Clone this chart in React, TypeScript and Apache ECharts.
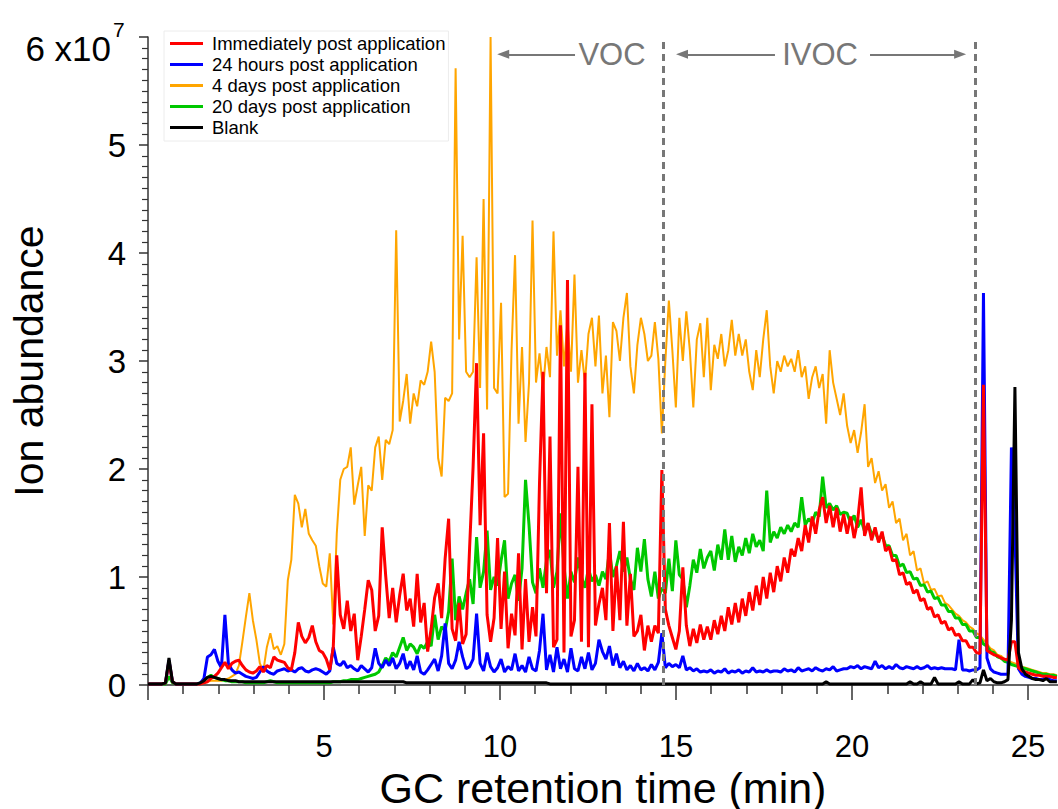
import { useEffect, useRef } from 'react';
import * as echarts from 'echarts';

// Retention-time spacing between successive scans (min)
const SCAN_STEP = 0.0993;

// Ion abundance per scan, in units of 10^6 counts (ten values per row)
const immediatelyPost: number[] = [
  0.1, 0.1, 0.1, 0.1, 0.1, 0.2, 2.2, 0.3, 0.1, 0.1,
  0.1, 0.1, 0.1, 0.1, 0.1, 0.1, 0.2, 0.3, 0.6, 0.8,
  1.1, 1.6, 2.1, 1.5, 2.0, 2.2, 2.3, 1.8, 1.4, 1.2,
  1.1, 1.3, 1.7, 1.2, 1.8, 1.6, 2.6, 2.3, 2.2, 2.1,
  1.6, 1.4, 3.0, 5.8, 4.5, 3.9, 4.4, 5.5, 4.0, 3.2,
  3.0, 2.4, 1.4, 3.5, 12.0, 6.5, 5.2, 7.8, 5.0, 6.6,
  2.3, 4.5, 7.0, 9.7, 8.8, 5.0, 6.4, 14.6, 10.1, 6.2,
  9.0, 5.8, 8.3, 10.3, 6.9, 8.0, 5.4, 10.3, 5.8, 7.6,
  3.1, 5.2, 8.1, 9.4, 6.2, 11.7, 15.4, 5.2, 4.1, 7.6,
  3.8, 4.7, 12.7, 20.2, 29.8, 14.8, 23.3, 6.5, 4.0, 6.2,
  13.6, 5.2, 10.5, 3.4, 6.6, 4.6, 12.2, 3.3, 9.8, 4.0,
  7.2, 4.5, 18.7, 29.0, 8.5, 23.0, 3.5, 4.2, 33.3, 3.0,
  37.5, 4.5, 6.0, 20.2, 4.0, 28.9, 3.5, 26.0, 5.5, 7.5,
  9.0, 6.0, 15.0, 5.0, 11.0, 6.0, 15.1, 5.5, 10.3, 4.5,
  5.0, 6.5, 3.2, 5.5, 4.0, 5.5, 4.8, 19.9, 7.0, 5.5,
  4.4, 3.3, 5.0, 10.9, 5.5, 3.6, 5.2, 3.9, 5.6, 4.2,
  5.4, 4.2, 6.0, 4.7, 6.4, 5.0, 7.2, 5.6, 7.6, 5.8,
  8.0, 6.4, 8.6, 6.9, 9.2, 7.4, 10.0, 8.0, 10.4, 8.6,
  11.0, 9.6, 11.8, 10.4, 12.6, 11.9, 13.6, 12.4, 14.8, 13.2,
  15.6, 14.0, 16.2, 17.4, 15.0, 16.6, 14.6, 16.4, 14.2, 15.8,
  14.0, 15.6, 13.6, 15.2, 18.3, 13.8, 15.0, 13.4, 14.6, 13.2,
  14.2, 12.4, 12.8, 11.5, 11.6, 10.2, 10.4, 9.3, 9.5, 8.5,
  8.8, 7.8, 8.0, 7.0, 7.2, 6.3, 6.5, 5.7, 5.9, 5.1,
  5.3, 4.6, 4.7, 4.1, 4.1, 3.5, 3.5, 3.0, 2.9, 27.8,
  3.2, 3.0, 2.8, 2.7, 2.5, 2.4, 2.3, 4.0, 4.0, 1.6,
  1.3, 1.2, 1.1, 1.0, 0.9, 0.9, 0.8, 0.8, 0.8, 0.7,
  0.7,
];

const hours24Post: number[] = [
  0.1, 0.1, 0.1, 0.1, 0.1, 0.2, 2.3, 0.3, 0.1, 0.1,
  0.1, 0.1, 0.1, 0.1, 0.1, 0.2, 0.6, 2.6, 2.8, 3.3,
  2.2, 1.6, 6.5, 2.0, 1.4, 1.1, 1.2, 1.0, 0.8, 0.7,
  0.6, 0.7, 1.2, 1.7, 1.3, 1.1, 1.0, 1.3, 1.4, 1.5,
  1.3, 1.4, 1.2, 1.5, 1.6, 1.3, 1.2, 1.4, 1.5, 1.4,
  1.2, 1.0, 1.3, 3.5, 2.0, 1.8, 2.2, 1.6, 1.8, 1.5,
  1.3, 1.8, 1.5, 1.2, 1.6, 3.4, 2.0, 1.6, 2.3, 1.8,
  2.5, 1.5, 2.0, 2.9, 1.5, 2.2, 1.4, 2.7, 1.2, 1.0,
  1.4, 1.9, 2.4, 1.3, 2.7, 5.7, 2.0, 1.5, 2.3, 4.0,
  2.6, 1.5, 1.7, 2.4, 6.6, 2.0, 1.3, 3.0, 1.7, 1.2,
  1.6, 2.4, 1.2, 1.7, 1.4, 2.9, 1.3, 1.8, 1.2, 2.6,
  1.5, 1.3, 3.2, 6.6, 1.4, 2.8, 1.2, 3.5, 1.5, 2.4,
  1.2, 3.4, 1.5, 1.3, 2.6, 1.5, 3.0, 1.4, 2.0, 4.2,
  3.1, 2.4, 3.6, 1.8, 2.9, 1.6, 2.2, 1.4, 1.8, 1.3,
  2.0, 1.4, 1.6, 1.3, 1.9, 1.4, 2.1, 4.8, 1.6, 2.0,
  1.7, 1.9, 1.6, 2.7, 1.4, 1.6, 1.3, 1.5, 1.2, 1.3,
  1.2, 1.4, 1.1, 1.3, 1.2, 1.5, 1.1, 1.3, 1.2, 1.4,
  1.1, 1.3, 1.2, 1.6, 1.2, 1.3, 1.2, 1.4, 1.2, 1.3,
  1.3, 1.2, 1.5, 1.3, 1.4, 1.2, 1.6, 1.3, 1.4, 1.5,
  1.3, 1.6, 1.4, 1.3, 1.5, 1.4, 1.7, 1.3, 1.4, 1.5,
  1.5, 1.7, 1.6, 1.8, 1.5, 1.7, 1.6, 1.5, 2.2, 1.6,
  1.8, 1.5, 1.7, 1.5, 1.9, 1.6, 1.5, 1.7, 1.6, 1.5,
  1.7, 1.5, 1.6, 1.8, 1.5, 1.6, 1.5, 1.6, 1.5, 1.5,
  1.5, 1.4, 4.2, 1.4, 1.4, 1.3, 1.4, 1.4, 1.6, 36.3,
  2.5, 1.5, 1.2, 1.1, 1.0, 1.0, 1.0, 22.0, 14.0, 1.5,
  1.0, 0.8, 0.7, 0.6, 0.6, 0.5, 0.5, 0.8, 0.5, 0.4,
  0.4,
];

const days4Post: number[] = [
  0.1, 0.1, 0.1, 0.1, 0.1, 0.1, 0.8, 0.2, 0.1, 0.1,
  0.1, 0.1, 0.1, 0.1, 0.1, 0.1, 0.2, 0.3, 0.4, 0.4,
  0.4, 0.4, 0.5, 0.6, 0.8, 1.0, 1.8, 4.0, 6.3, 8.5,
  6.0, 4.2, 2.0, 1.3, 3.5, 4.8, 3.3, 3.6, 2.8, 3.8,
  9.7, 11.6, 17.6, 16.8, 14.6, 16.3, 14.0, 13.4, 12.9, 11.0,
  9.4, 9.1, 12.2, 5.6, 14.0, 19.0, 20.0, 20.2, 22.0, 16.7,
  18.5, 20.2, 13.8, 18.5, 18.0, 22.0, 23.0, 19.0, 22.7, 22.3,
  23.6, 42.1, 24.4, 26.3, 28.8, 24.2, 27.0, 25.8, 28.2, 27.8,
  29.0, 31.8, 29.0, 21.0, 19.3, 26.6, 26.3, 27.0, 57.1, 32.0,
  41.6, 29.0, 28.5, 29.0, 39.6, 27.5, 45.0, 25.5, 60.0, 27.5,
  27.0, 35.4, 17.4, 17.7, 31.0, 39.8, 24.2, 31.3, 22.5, 28.0,
  43.0, 28.0, 30.7, 27.3, 31.3, 28.5, 42.0, 30.5, 34.7, 29.5,
  33.6, 29.0, 38.0, 28.0, 31.0, 28.0, 32.5, 34.0, 29.5, 34.2,
  27.0, 30.5, 24.8, 33.6, 32.8, 30.0, 34.0, 36.3, 29.5, 27.0,
  31.5, 34.0, 32.5, 30.0, 30.5, 33.6, 30.2, 23.3, 30.0, 35.6,
  31.0, 25.7, 34.0, 30.0, 34.6, 31.0, 25.7, 32.0, 33.5, 28.5,
  34.0, 27.3, 31.5, 30.2, 32.5, 29.5, 31.0, 33.8, 30.5, 32.5,
  30.5, 32.0, 29.0, 27.3, 31.0, 28.5, 32.0, 34.7, 29.5, 27.0,
  30.0, 29.0, 30.5, 29.5, 30.2, 29.0, 31.0, 28.5, 29.5, 26.5,
  28.5, 29.5, 27.5, 28.8, 24.2, 31.0, 28.0, 26.5, 25.0, 27.0,
  24.0, 22.4, 23.6, 21.5, 23.4, 26.0, 20.2, 21.0, 18.7, 19.8,
  18.0, 18.6, 16.4, 17.0, 15.0, 15.4, 13.4, 14.0, 12.0, 12.4,
  10.6, 10.8, 9.4, 9.6, 8.8, 8.9, 8.2, 8.3, 7.6, 7.4,
  7.0, 6.6, 6.4, 6.0, 5.8, 5.4, 5.2, 4.8, 4.6, 4.2,
  3.8, 3.4, 3.2, 2.8, 2.7, 2.4, 2.3, 2.1, 2.0, 1.9,
  1.7, 1.6, 1.5, 1.4, 1.3, 1.2, 1.1, 1.1, 1.0, 1.0,
  0.9,
];

const days20Post: number[] = [
  0.1, 0.1, 0.1, 0.1, 0.1, 0.1, 0.8, 0.2, 0.1, 0.1,
  0.1, 0.1, 0.1, 0.1, 0.1, 0.2, 0.4, 0.7, 0.9, 0.7,
  0.6, 0.5, 0.4, 0.4, 0.3, 0.3, 0.3, 0.3, 0.2, 0.2,
  0.2, 0.2, 0.2, 0.2, 0.3, 0.4, 0.3, 0.2, 0.2, 0.2,
  0.2, 0.2, 0.2, 0.2, 0.2, 0.2, 0.2, 0.2, 0.2, 0.2,
  0.2, 0.2, 0.2, 0.3, 0.3, 0.3, 0.4, 0.4, 0.5, 0.5,
  0.5, 0.6, 0.7, 0.8, 0.9, 1.0, 1.2, 1.8, 2.5, 2.2,
  3.0, 2.6, 3.5, 4.4, 3.2, 3.8, 3.5, 2.9, 3.7, 3.4,
  4.0, 3.6, 6.5, 4.2, 5.4, 5.0, 6.8, 11.7, 6.0, 8.2,
  7.0, 8.5, 9.8, 7.5, 13.7, 9.0, 10.5, 14.3, 8.8, 10.0,
  9.2, 11.5, 13.4, 8.0, 9.4, 10.2, 7.8, 10.8, 19.0, 14.8,
  9.5, 8.5, 10.8, 9.0, 11.5, 12.5, 9.0, 10.5, 15.9, 11.0,
  8.0, 10.5, 9.5, 11.8, 10.0, 9.0, 10.8, 9.6, 10.2, 9.2,
  10.5, 9.8, 12.4, 10.0, 11.0, 12.4, 10.5, 11.8, 9.8, 8.8,
  12.7, 10.5, 13.5, 9.8, 8.2, 10.5, 8.0, 9.0, 8.5, 11.7,
  8.7, 13.4, 10.2, 9.8, 7.2, 9.2, 11.6, 10.4, 12.6, 10.8,
  11.8, 12.4, 10.6, 13.0, 11.6, 14.4, 11.6, 13.8, 11.4, 12.8,
  12.0, 13.6, 12.2, 14.0, 12.8, 13.4, 12.4, 18.0, 13.2, 14.2,
  13.6, 14.6, 14.0, 14.8, 14.2, 15.0, 14.6, 17.4, 14.8, 15.4,
  15.0, 16.0, 15.6, 19.3, 16.4, 16.8, 16.2, 16.6, 15.8, 16.0,
  15.9, 15.0, 15.7, 14.6, 15.3, 14.2, 14.9, 14.0, 14.2, 13.4,
  13.9, 12.9, 12.9, 12.0, 12.0, 11.0, 11.2, 10.4, 10.5, 9.8,
  9.9, 9.2, 9.3, 8.6, 8.7, 8.0, 8.1, 7.4, 7.4, 6.8,
  6.8, 6.2, 6.2, 5.6, 5.6, 5.0, 5.0, 4.4, 4.4, 3.8,
  3.6, 3.1, 3.0, 2.6, 2.5, 2.2, 2.1, 1.9, 1.8, 1.7,
  1.6, 1.5, 1.4, 1.3, 1.2, 1.1, 1.0, 1.0, 0.9, 0.9,
  0.8,
];

const blankRun: number[] = [
  0.1, 0.1, 0.1, 0.1, 0.1, 0.2, 2.5, 0.3, 0.1, 0.1,
  0.1, 0.1, 0.1, 0.1, 0.1, 0.2, 0.4, 0.7, 0.8, 0.7,
  0.6, 0.5, 0.5, 0.4, 0.4, 0.4, 0.3, 0.3, 0.3, 0.3,
  0.3, 0.3, 0.3, 0.3, 0.3, 0.3, 0.3, 0.3, 0.3, 0.3,
  0.3, 0.3, 0.3, 0.3, 0.3, 0.3, 0.3, 0.3, 0.3, 0.3,
  0.3, 0.3, 0.3, 0.3, 0.3, 0.3, 0.3, 0.3, 0.3, 0.3,
  0.3, 0.3, 0.3, 0.3, 0.3, 0.3, 0.3, 0.3, 0.3, 0.3,
  0.3, 0.3, 0.3, 0.3, 0.2, 0.2, 0.2, 0.2, 0.2, 0.2,
  0.2, 0.2, 0.2, 0.2, 0.2, 0.2, 0.2, 0.2, 0.2, 0.2,
  0.2, 0.2, 0.2, 0.2, 0.2, 0.2, 0.2, 0.2, 0.2, 0.2,
  0.2, 0.2, 0.2, 0.2, 0.2, 0.2, 0.2, 0.2, 0.2, 0.2,
  0.2, 0.2, 0.2, 0.2, 0.2, 0.1, 0.1, 0.1, 0.1, 0.1,
  0.1, 0.1, 0.1, 0.1, 0.1, 0.1, 0.1, 0.1, 0.1, 0.1,
  0.1, 0.1, 0.1, 0.1, 0.1, 0.1, 0.1, 0.1, 0.1, 0.1,
  0.1, 0.1, 0.1, 0.1, 0.1, 0.1, 0.1, 0.1, 0.1, 0.1,
  0.1, 0.1, 0.1, 0.1, 0.1, 0.1, 0.1, 0.1, 0.1, 0.1,
  0.1, 0.1, 0.1, 0.1, 0.1, 0.1, 0.1, 0.1, 0.1, 0.1,
  0.1, 0.1, 0.1, 0.1, 0.1, 0.1, 0.1, 0.1, 0.1, 0.1,
  0.1, 0.1, 0.1, 0.1, 0.1, 0.1, 0.1, 0.1, 0.1, 0.1,
  0.1, 0.1, 0.1, 0.1, 0.3, 0.1, 0.1, 0.1, 0.1, 0.1,
  0.1, 0.1, 0.1, 0.1, 0.1, 0.1, 0.1, 0.1, 0.1, 0.1,
  0.1, 0.1, 0.1, 0.1, 0.1, 0.1, 0.1, 0.1, 0.3, 0.1,
  0.1, 0.3, 0.1, 0.1, 0.1, 0.7, 0.1, 0.1, 0.1, 0.1,
  0.1, 0.1, 0.3, 0.1, 0.1, 0.1, 0.5, 0.1, 0.2, 1.4,
  0.4, 0.6, 0.3, 0.2, 0.2, 0.3, 0.5, 6.0, 27.6, 3.0,
  1.5, 1.0, 0.8, 0.6, 0.5, 0.5, 0.4, 0.6, 0.3, 0.3,
  0.3,
];

const SERIES_NAMES = [
  'Immediately post application',
  '24 hours post application',
  '4 days post application',
  '20 days post application',
  'Blank',
];

// Axis ranges and ticks (abundance in units of 10^6)
const X_MIN = 0;
const X_MAX = 25.85;
const X_MAJOR_TICKS = [0, 5, 10, 15, 20, 25];
const X_MINOR_TICKS = [1, 2, 3, 4, 6, 7, 8, 9, 11, 12, 13, 14, 16, 17, 18, 19, 21, 22, 23, 24];
const X_LABELS = [5, 10, 15, 20, 25];
const Y_MAX = 60;
const Y_STEP = 10;

// Volatility class boundaries and annotation placement (min, 10^6)
const VOC_IVOC_BOUNDARY = 14.63;
const IVOC_END = 23.51;
const BANNER_LEVEL = 58.4;
const VOC_ARROW = [12.13, 10.09];
const IVOC_LEFT_ARROW = [17.81, 15.17];
const IVOC_RIGHT_ARROW = [20.51, 23.07];
const VOC_LABEL_AT = 13.18;
const IVOC_LABEL_AT = 19.09;

const FONT = '"Liberation Sans", Arial, Helvetica, sans-serif';
const ANNOTATION_GREY = '#777777';
const AXIS_GREY = '#333333';

const toPoints = (values: number[]) => values.map((v, i) => [Number((i * SCAN_STEP).toFixed(4)), v]);

function traceSeries(name: string, values: number[], color: string, width: number) {
  return {
    name,
    type: 'line',
    data: toPoints(values),
    showSymbol: false,
    symbol: 'none',
    silent: true,
    color,
    lineStyle: { color, width, join: 'bevel' },
  };
}

function arrow(fromTo: number[]) {
  return [
    { coord: [fromTo[0], BANNER_LEVEL], symbol: 'none' },
    { coord: [fromTo[1], BANNER_LEVEL], symbol: 'triangle', symbolSize: [9, 12] },
  ];
}

function buildOption() {
  return {
    animation: false,
    backgroundColor: '#ffffff',
    textStyle: { fontFamily: FONT },
    grid: { left: 148, right: 0, top: 37, bottom: 124, containLabel: false, outerBoundsMode: 'none' },
    legend: {
      data: SERIES_NAMES,
      orient: 'vertical',
      left: 164,
      top: 31,
      icon: 'rect',
      itemWidth: 33,
      itemHeight: 3,
      itemGap: 2,
      padding: [3, 3, 4, 6],
      backgroundColor: '#ffffff',
      borderColor: '#ececec',
      borderWidth: 1,
      textStyle: { fontSize: 18.5, color: '#000', fontFamily: FONT, padding: [0, 0, 0, 4] },
    },
    xAxis: [
      {
        type: 'value',
        min: X_MIN,
        max: X_MAX,
        position: 'bottom',
        axisLine: { show: true, onZero: false, lineStyle: { color: AXIS_GREY, width: 1.5 } },
        axisTick: { show: true, customValues: X_MAJOR_TICKS, length: 15, lineStyle: { color: AXIS_GREY, width: 1.5 } },
        axisLabel: { show: true, customValues: X_LABELS, fontSize: 31, color: '#000', margin: 46, fontFamily: FONT },
        splitLine: { show: false },
        name: 'GC retention time (min)',
        nameLocation: 'middle',
        nameGap: 74,
        nameTextStyle: { fontSize: 43, lineHeight: 42, color: '#000', fontFamily: FONT },
      },
      {
        type: 'value',
        min: X_MIN,
        max: X_MAX,
        position: 'bottom',
        axisLine: { show: false, onZero: false },
        axisTick: { show: true, customValues: X_MINOR_TICKS, length: 9, lineStyle: { color: AXIS_GREY, width: 1.5 } },
        axisLabel: { show: false },
        splitLine: { show: false },
      },
    ],
    yAxis: {
      type: 'value',
      min: 0,
      max: Y_MAX,
      interval: Y_STEP,
      axisLine: { show: true, lineStyle: { color: AXIS_GREY, width: 1.5 } },
      axisTick: { show: true, length: 9, lineStyle: { color: AXIS_GREY, width: 1.5 } },
      minorTick: { show: true, splitNumber: 10, length: 6, lineStyle: { color: AXIS_GREY, width: 1.2 } },
      splitLine: { show: false },
      minorSplitLine: { show: false },
      axisLabel: {
        fontSize: 33,
        color: '#000',
        margin: 22,
        fontFamily: FONT,
        formatter: (v: number) => (v === Y_MAX ? '' : String(v / Y_STEP)),
      },
      name: 'Ion abundance',
      nameLocation: 'middle',
      nameRotate: 90,
      nameGap: 99,
      nameTextStyle: { fontSize: 41, color: '#000', fontFamily: FONT },
    },
    graphic: [
      {
        type: 'text',
        x: 111,
        y: 48,
        silent: true,
        style: { text: '6 x10', fill: '#000', fontSize: 35, fontFamily: FONT, align: 'right', verticalAlign: 'middle' },
      },
      {
        type: 'text',
        x: 113,
        y: 29,
        silent: true,
        style: { text: '7', fill: '#000', fontSize: 21, fontFamily: FONT, align: 'left', verticalAlign: 'middle' },
      },
    ],
    series: [
      traceSeries(SERIES_NAMES[2], days4Post, '#ffa500', 2),
      traceSeries(SERIES_NAMES[3], days20Post, '#00c800', 3),
      traceSeries(SERIES_NAMES[1], hours24Post, '#0000ff', 3),
      traceSeries(SERIES_NAMES[0], immediatelyPost, '#ff0000', 3),
      traceSeries(SERIES_NAMES[4], blankRun, '#000000', 3),
      {
        name: 'boundaries',
        type: 'line',
        data: [],
        silent: true,
        z: 10,
        markLine: {
          silent: true,
          symbol: 'none',
          animation: false,
          label: { show: false },
          lineStyle: { type: [7, 5], color: ANNOTATION_GREY, width: 3 },
          data: [{ xAxis: VOC_IVOC_BOUNDARY }, { xAxis: IVOC_END }],
        },
      },
      {
        name: 'classes',
        type: 'line',
        data: [],
        silent: true,
        z: 10,
        markLine: {
          silent: true,
          animation: false,
          label: { show: false },
          lineStyle: { type: 'solid', color: ANNOTATION_GREY, width: 2 },
          data: [arrow(VOC_ARROW), arrow(IVOC_LEFT_ARROW), arrow(IVOC_RIGHT_ARROW)],
        },
        markPoint: {
          silent: true,
          animation: false,
          symbol: 'circle',
          symbolSize: 1,
          itemStyle: { color: 'rgba(0,0,0,0)' },
          label: {
            show: true,
            position: 'inside',
            formatter: '{b}',
            fontSize: 31,
            color: ANNOTATION_GREY,
            fontFamily: FONT,
          },
          data: [
            { name: 'VOC', coord: [VOC_LABEL_AT, BANNER_LEVEL] },
            { name: 'IVOC', coord: [IVOC_LABEL_AT, BANNER_LEVEL] },
          ],
        },
      },
    ],
  };
}

export default function App() {
  const ref = useRef<HTMLDivElement>(null);

  useEffect(() => {
    if (!ref.current) return;
    const chart = echarts.init(ref.current, undefined, { renderer: 'svg' });
    chart.setOption(buildOption() as any);
    return () => {
      chart.dispose();
    };
  }, []);

  return (
    <div
      ref={ref}
      style={{ position: 'fixed', left: 0, top: 0, width: 1058, height: 809, background: '#fff' }}
    />
  );
}
